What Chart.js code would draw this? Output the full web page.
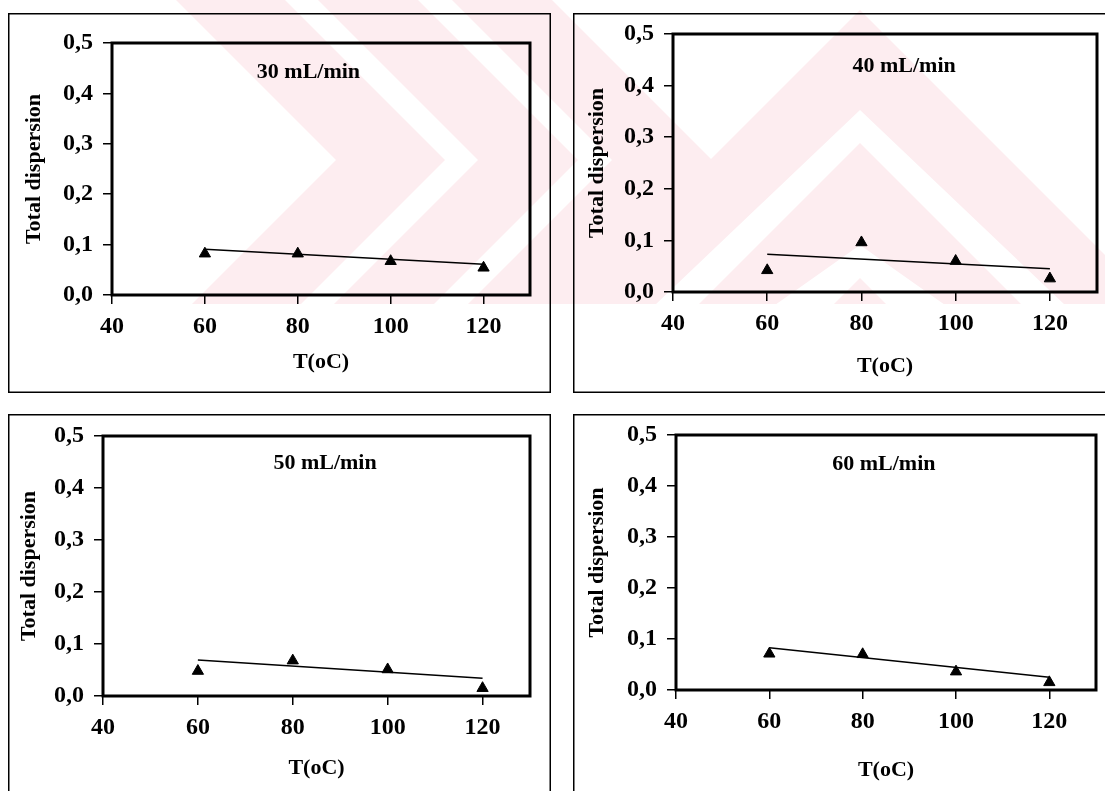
<!DOCTYPE html>
<html>
<head>
<meta charset="utf-8">
<title>Total dispersion vs T</title>
<script src="https://cdn.jsdelivr.net/npm/chart.js@4.4.1/dist/chart.umd.min.js"></script>
<style>
  html, body { margin: 0; padding: 0; background: #fff; width: 1105px; height: 791px; overflow: hidden; }
  canvas, svg { position: absolute; left: 0; top: 0; }
</style>
</head>
<body>
<!-- pale watermark of the scanned page, behind the charts -->
<svg width="1105" height="304" viewBox="0 0 1105 304">
  <g fill="#fdedf0">
    <polygon points="176,0 285,0 445,160 300,305 191,305 336,160"/>
    <polygon points="318,0 418,0 578,160 433,305 333,305 478,160"/>
    <polygon points="452,0 552,0 712,160 567,305 467,305 612,160"/>
    <polygon points="565,305 860,10 1155,305 1065,305 860,110 655,305"/>
    <polygon points="698,305 860,143 1022,305 945,305 860,245 775,305"/>
    <polygon points="833,305 860,278 887,305"/>
  </g>
</svg>
<canvas id="p30"></canvas>
<canvas id="p40"></canvas>
<canvas id="p50"></canvas>
<canvas id="p60"></canvas>
<script>
'use strict';

// data
var temps = [60, 80, 100, 120];
var xTicks = [40, 60, 80, 100, 120];
var yTicks = [0, 0.1, 0.2, 0.3, 0.4, 0.5];
var yTickLabels = ['0,0', '0,1', '0,2', '0,3', '0,4', '0,5'];
var flowLabels = ['30 mL/min', '40 mL/min', '50 mL/min', '60 mL/min'];

var disp30 = [0.082, 0.082, 0.067, 0.054];
var disp40 = [0.042, 0.096, 0.060, 0.026];
var disp50 = [0.048, 0.068, 0.051, 0.015];
var disp60 = [0.071, 0.070, 0.036, 0.015];

// fitted lines as drawn, from 60 to 120
var trendX = [60, 120];
var trend30 = [0.091, 0.061];
var trend40 = [0.073, 0.045];
var trend50 = [0.069, 0.034];
var trend60 = [0.083, 0.025];

var FONT = "'Liberation Serif', 'Times New Roman', serif";

// page layout: outer box [left, top, width, height], plot area [l, t, r, b],
// label position as fraction of plot area, title positions
var panels = [
  { id: 'p30', box: [8, 13, 543, 380], plot: [112, 43, 530, 295], lab: [0.47, 0.115], yTitleX: 34, xTitleY: 362, disp: disp30, trend: trend30, name: flowLabels[0] },
  { id: 'p40', box: [573, 13, 545, 380], plot: [673, 34, 1097, 292], lab: [0.545, 0.125], yTitleX: 597, xTitleY: 366, disp: disp40, trend: trend40, name: flowLabels[1] },
  { id: 'p50', box: [8, 414, 543, 400], plot: [103, 436, 530, 696], lab: [0.52, 0.105], yTitleX: 29, xTitleY: 768, disp: disp50, trend: trend50, name: flowLabels[2] },
  { id: 'p60', box: [573, 414, 545, 400], plot: [676, 435, 1096, 690], lab: [0.495, 0.115], yTitleX: 597, xTitleY: 770, disp: disp60, trend: trend60, name: flowLabels[3] }
];

var tickFont = { family: FONT, size: 24, weight: 'bold', lineHeight: 0.9 };
var titleFont = { family: FONT, size: 22, weight: 'bold', lineHeight: 1.2 };

// thick frame round the plot, thin outer box, and the flow-rate label
var framePlugin = {
  id: 'frame',
  afterDraw: function (chart, args, opts) {
    var ctx = chart.ctx, a = chart.chartArea;
    ctx.save();
    ctx.strokeStyle = '#000';
    ctx.lineWidth = 1.5;
    ctx.strokeRect(0.75, 0.75, chart.width - 1.5, chart.height - 1.5);
    ctx.lineWidth = 3;
    ctx.strokeRect(a.left, a.top, a.right - a.left, a.bottom - a.top);
    ctx.fillStyle = '#000';
    ctx.font = 'bold 22px ' + FONT;
    ctx.textAlign = 'center';
    ctx.textBaseline = 'middle';
    ctx.fillText(opts.text, a.left + opts.fx * (a.right - a.left), a.top + opts.fy * (a.bottom - a.top));
    ctx.restore();
  }
};

panels.forEach(function (p) {
  var cv = document.getElementById(p.id);
  var bl = p.box[0], bt = p.box[1], bw = p.box[2], bh = p.box[3];
  cv.width = bw;
  cv.height = bh;
  cv.style.left = bl + 'px';
  cv.style.top = bt + 'px';

  var yAxisW = p.plot[0] - bl;
  var xAxisH = bt + bh - p.plot[3];
  var yTitlePad = (p.yTitleX - bl) - titleFont.size * titleFont.lineHeight / 2;
  var xTitlePad = (bt + bh - p.xTitleY) - titleFont.size * titleFont.lineHeight / 2;

  new Chart(cv, {
    type: 'scatter',
    data: {
      datasets: [{
        type: 'line',
        data: trendX.map(function (x, i) { return { x: x, y: p.trend[i] }; }),
        borderColor: '#000',
        borderWidth: 1.5,
        pointRadius: 0,
        fill: false
      }, {
        data: temps.map(function (t, i) { return { x: t, y: p.disp[i] }; }),
        pointStyle: 'triangle',
        pointRadius: 6.5,
        backgroundColor: '#000',
        borderColor: '#000',
        borderWidth: 1
      }]
    },
    options: {
      responsive: false,
      animation: false,
      events: [],
      layout: {
        padding: { left: 0, top: p.plot[1] - bt, right: bl + bw - p.plot[2], bottom: 0 }
      },
      plugins: {
        legend: { display: false },
        tooltip: { enabled: false },
        frame: { text: p.name, fx: p.lab[0], fy: p.lab[1] }
      },
      scales: {
        x: {
          type: 'linear',
          min: 40,
          max: 130,
          afterBuildTicks: function (s) { s.ticks = xTicks.map(function (v) { return { value: v }; }); },
          afterFit: function (s) { s.height = xAxisH; },
          ticks: {
            color: '#000',
            font: tickFont,
            padding: 12,
            maxRotation: 0,
            autoSkip: false,
            callback: function (v) { return String(v); }
          },
          grid: { drawOnChartArea: false, drawTicks: true, tickLength: 9, color: '#000', lineWidth: 1.5 },
          border: { display: false },
          title: {
            display: true,
            text: 'T(oC)',
            color: '#000',
            font: titleFont,
            padding: { top: 0, bottom: xTitlePad }
          }
        },
        y: {
          type: 'linear',
          min: 0,
          max: 0.5,
          afterBuildTicks: function (s) { s.ticks = yTicks.map(function (v) { return { value: v }; }); },
          afterFit: function (s) { s.width = yAxisW; },
          ticks: {
            color: '#000',
            font: tickFont,
            padding: 10,
            autoSkip: false,
            callback: function (v, i) { return yTickLabels[i]; }
          },
          grid: { drawOnChartArea: false, drawTicks: true, tickLength: 9, color: '#000', lineWidth: 1.5 },
          border: { display: false },
          title: {
            display: true,
            text: 'Total dispersion',
            color: '#000',
            font: titleFont,
            padding: { top: yTitlePad, bottom: 0 }
          }
        }
      }
    },
    plugins: [framePlugin]
  });
});
</script>
</body>
</html>
